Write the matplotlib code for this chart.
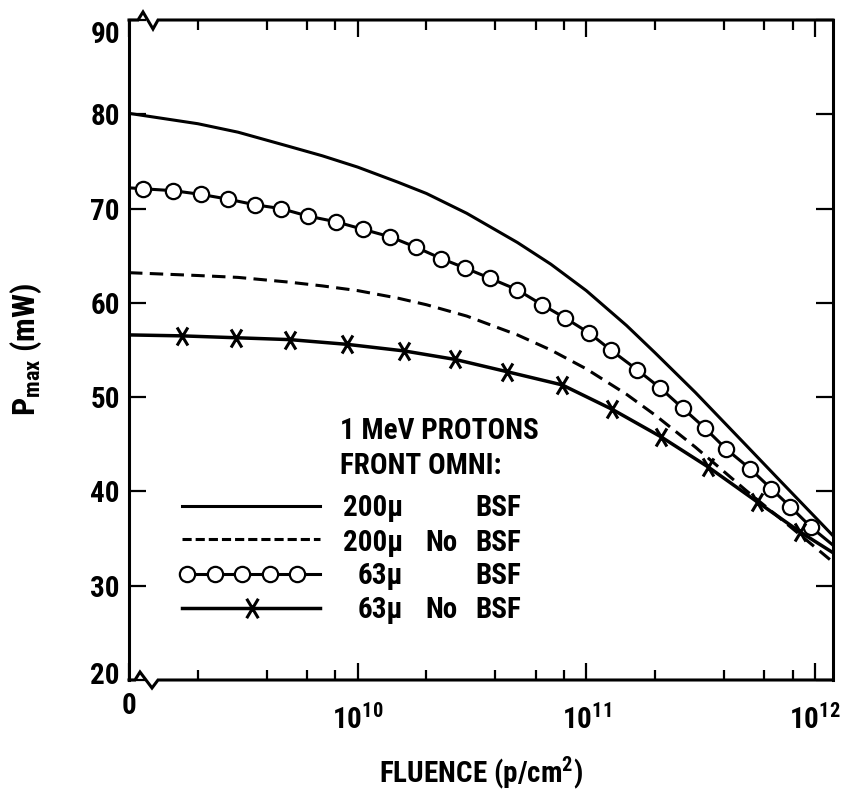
import matplotlib
matplotlib.use("Agg")
import matplotlib.pyplot as plt
import matplotlib.transforms as mtransforms
from matplotlib import font_manager as fm
from matplotlib.path import Path
from matplotlib.lines import Line2D
from matplotlib.ticker import FixedLocator, FixedFormatter, NullFormatter

# ---------------- data ----------------
fluence_grid = [1e9, 2e9, 3e9, 5e9, 7e9, 1e10, 1.5e10, 2e10, 3e10, 5e10, 7e10,
                1e11, 1.5e11, 2e11, 3e11, 5e11, 7e11, 1e12, 1.2e12]
p_200_bsf = [80.1, 79.0, 78.1, 76.6, 75.6, 74.4, 72.8, 71.6, 69.5, 66.4, 64.1,
             61.3, 57.6, 54.7, 50.5, 44.9, 41.2, 37.3, 35.3]
p_200_nobsf = [63.2, 62.9, 62.7, 62.2, 61.8, 61.3, 60.5, 59.8, 58.6, 56.6, 55.0,
               53.0, 50.3, 48.1, 44.7, 40.1, 37.2, 34.1, 32.5]

f_63_bsf = [1e9, 1.15e9, 1.56e9, 2.07e9, 2.71e9, 3.56e9, 4.62e9, 6.07e9, 8.04e9,
            1.056e10, 1.39e10, 1.80e10, 2.32e10, 2.95e10, 3.80e10, 4.98e10,
            6.41e10, 8.08e10, 1.03e11, 1.28e11, 1.67e11, 2.10e11, 2.65e11,
            3.31e11, 4.09e11, 5.21e11, 6.43e11, 7.79e11, 9.63e11, 1.2e12]
p_63_bsf = [72.2, 72.1, 71.9, 71.5, 71.0, 70.4, 70.0, 69.2, 68.6,
            67.8, 67.0, 65.9, 64.7, 63.7, 62.6, 61.4,
            59.8, 58.4, 56.8, 55.0, 52.9, 51.0, 48.8,
            46.7, 44.5, 42.4, 40.3, 38.4, 36.2, 34.3]

f_63_nobsf = [1e9, 1.70e9, 2.94e9, 5.06e9, 8.99e9, 1.60e10, 2.67e10, 4.50e10,
              7.84e10, 1.30e11, 2.12e11, 3.41e11, 5.59e11, 8.62e11, 1.2e12]
p_63_nobsf = [56.6, 56.5, 56.3, 56.1, 55.6, 54.9, 54.0, 52.7,
              51.3, 48.7, 45.8, 42.6, 38.9, 35.7, 33.5]

x_major = [1e9, 1e10, 1e11, 1e12]
x_major_labels = ["0", "$10^{10}$", "$10^{11}$", "$10^{12}$"]
x_minor = [m * d for d in (1e9, 1e10, 1e11) for m in (2, 4, 6, 8)]
y_ticks = [20, 30, 40, 50, 60, 70, 80, 90]
y_tick_labels = ["20", "30", "40", "50", "60", "70", "80", "90"]

legend_title = ["1 MeV PROTONS", "FRONT OMNI:"]
legend_sizes = ["200\u03bc", "200\u03bc", "63\u03bc", "63\u03bc"]
legend_no = ["", "No", "", "No"]
legend_bsf = ["BSF", "BSF", "BSF", "BSF"]

# ---------------- fonts ----------------
def pick_font():
    names = {f.name for f in fm.fontManager.ttflist}
    for n in ["Liberation Sans Narrow", "Roboto Condensed", "Noto Sans Condensed",
              "Open Sans Condensed"]:
        if n in names:
            return n, "normal"
    for f in fm.fontManager.ttflist:
        if f.name == "DejaVu Sans" and "ondensed" in f.fname:
            return "DejaVu Sans", "condensed"
    return "Liberation Sans", "normal"

FAM, STRETCH = pick_font()
WEIGHT = "bold"
plt.rcParams["font.family"] = [FAM, "DejaVu Sans"]
plt.rcParams["font.stretch"] = STRETCH
plt.rcParams["font.weight"] = WEIGHT
plt.rcParams["axes.labelweight"] = WEIGHT
plt.rcParams["mathtext.fontset"] = "custom"
plt.rcParams["mathtext.rm"] = FAM + ":bold"
plt.rcParams["mathtext.it"] = FAM + ":bold:italic"
plt.rcParams["mathtext.bf"] = FAM + ":bold"
plt.rcParams["mathtext.sf"] = FAM + ":bold"

FS = 21

# ---------------- figure ----------------
W, H = 842, 796
fig = plt.figure(figsize=(W / 100, H / 100), dpi=100)
L, R, T, B = 129, 833, 20, 680
ax = fig.add_axes([L / W, 1 - B / H, (R - L) / W, (B - T) / H])
AW, AH = R - L, B - T

LW = 2.2
ax.plot(fluence_grid, p_200_bsf, color="black", lw=LW, solid_capstyle="butt")
ax.plot(fluence_grid, p_200_nobsf, color="black", lw=LW, dashes=(4.4, 2.4))
ax.plot(f_63_bsf, p_63_bsf, color="black", lw=LW, marker="o", markersize=11,
        markerfacecolor="white", markeredgecolor="black", markeredgewidth=1.6,
        markevery=list(range(1, len(f_63_bsf) - 1)))
xpath = Path([(-0.6, -1), (0.6, 1), (-0.6, 1), (0.6, -1)],
             [Path.MOVETO, Path.LINETO, Path.MOVETO, Path.LINETO])
ax.plot(f_63_nobsf, p_63_nobsf, color="black", lw=LW + 0.3, marker=xpath,
        markersize=13, markeredgewidth=2.2, markeredgecolor="black",
        markevery=list(range(1, len(f_63_nobsf) - 1)))

ax.set_xscale("log")
ax.set_xlim(1e9, 1.2e12)
ax.set_ylim(20, 90)

ax.xaxis.set_major_locator(FixedLocator(x_major))
ax.xaxis.set_major_formatter(FixedFormatter(x_major_labels))
ax.xaxis.set_minor_locator(FixedLocator(x_minor))
ax.xaxis.set_minor_formatter(NullFormatter())
ax.yaxis.set_major_locator(FixedLocator(y_ticks))
ax.yaxis.set_major_formatter(FixedFormatter(y_tick_labels))

ax.tick_params(axis="both", which="major", direction="in", length=12, width=1.6,
               top=True, right=True, labelsize=FS, colors="black")
ax.tick_params(axis="both", which="minor", direction="in", length=7, width=1.6,
               top=True, right=True)
ax.tick_params(axis="x", which="major", pad=8.5)
ax.tick_params(axis="y", which="major", pad=6.5)

for s in ("left", "right"):
    ax.spines[s].set_linewidth(LW)
for s in ("top", "bottom"):
    ax.spines[s].set_visible(False)

# frame lines with break symbols (drawn in axes fractions)
def fx(px):
    return px / AW

def fy(py):
    return py / AH

top_line = [(0, 1), (fx(9), 1), (fx(14), 1 + fy(8)), (fx(24), 1 - fy(9)),
            (fx(29), 1), (1, 1)]
bot_line = [(0, 0), (fx(6), 0), (fx(11), fy(8)), (fx(23), -fy(8)),
            (fx(29), 0), (1, 0)]
for pts in (top_line, bot_line):
    xs, ys = zip(*pts)
    ax.add_artist(Line2D(xs, ys, transform=ax.transAxes, color="black", lw=LW,
                         clip_on=False, solid_joinstyle="miter",
                         solid_capstyle="projecting"))

# offsets of some tick labels
fig.canvas.draw()

def shift(lbl, dy_px):
    lbl.set_transform(lbl.get_transform() +
                      mtransforms.ScaledTranslation(0, dy_px / 100, fig.dpi_scale_trans))

yt = ax.yaxis.get_major_ticks()
shift(yt[-1].label1, -12)
shift(yt[0].label1, 7)
xt = ax.xaxis.get_major_ticks()
for t in xt[1:]:
    shift(t.label1, -12)

# axis labels
ax.set_xlabel("FLUENCE (p/cm$^2$)", fontsize=FS, fontweight=WEIGHT)
ax.xaxis.set_label_coords(0.5, -(754 - B) / AH)
ax.xaxis.label.set_va("top")
ax.set_ylabel("P$_{\\mathrm{max}}$ (mW)", fontsize=23, fontweight=WEIGHT)
ax.yaxis.set_label_coords(-(129 - 44) / AW, 0.5)

# ---------------- legend (manual) ----------------
def ax_x(px):
    return (px - L) / AW

def ax_y(py):
    return (B - py) / AH

tb = ax.transAxes
ax.text(ax_x(340), ax_y(439), legend_title[0], transform=tb, fontsize=FS,
        ha="left", va="baseline")
ax.text(ax_x(340), ax_y(474), legend_title[1], transform=tb, fontsize=FS,
        ha="left", va="baseline")

row_line_y = [506, 539, 574, 608]
row_text_base = [516, 551, 584, 618]
lx0, lx1 = ax_x(182), ax_x(320)
ax.add_artist(Line2D([lx0, lx1], [ax_y(row_line_y[0])] * 2, transform=tb,
                     color="black", lw=LW))
ax.add_artist(Line2D([lx0, lx1], [ax_y(row_line_y[1])] * 2, transform=tb,
                     color="black", lw=LW, dashes=(3.0, 1.3)))
ax.add_artist(Line2D([lx0, lx1], [ax_y(row_line_y[2])] * 2, transform=tb,
                     color="black", lw=LW))
circ_x = [ax_x(v) for v in (187, 215, 242, 270, 297)]
ax.add_artist(Line2D(circ_x, [ax_y(row_line_y[2])] * len(circ_x), transform=tb,
                     linestyle="none", marker="o", markersize=11,
                     markerfacecolor="white", markeredgecolor="black",
                     markeredgewidth=1.6))
ax.add_artist(Line2D([lx0, lx1], [ax_y(row_line_y[3])] * 2, transform=tb,
                     color="black", lw=LW + 0.3))
ax.add_artist(Line2D([ax_x(252)], [ax_y(row_line_y[3])], transform=tb,
                     linestyle="none", marker=xpath, markersize=14,
                     markeredgewidth=2.2, markeredgecolor="black"))

for i in range(4):
    yb = ax_y(row_text_base[i])
    ax.text(ax_x(403), yb, legend_sizes[i], transform=tb, fontsize=FS,
            ha="right", va="baseline")
    if legend_no[i]:
        ax.text(ax_x(425), yb, legend_no[i], transform=tb, fontsize=FS,
                ha="left", va="baseline")
    ax.text(ax_x(475), yb, legend_bsf[i], transform=tb, fontsize=FS,
            ha="left", va="baseline")

fig.savefig("out.png", dpi=100, facecolor="white")
